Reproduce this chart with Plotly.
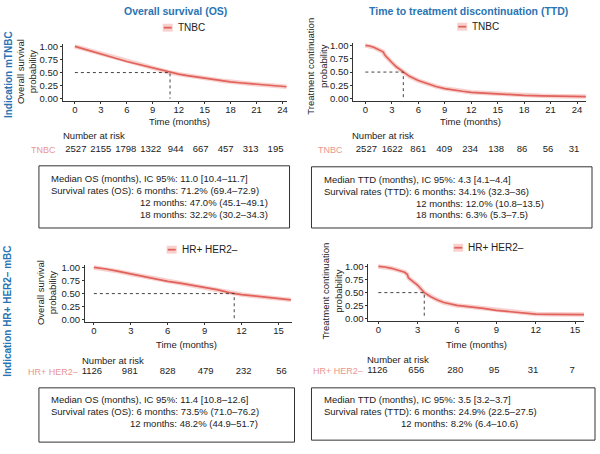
import plotly.graph_objects as go

W, H = 600, 454
FONT = "Liberation Sans, Arial, sans-serif"
RED = "#e0625b"
BAND = "rgba(240,150,145,0.45)"
PINK = "#ea9690"
BLUE = "#2a74b3"
DARK = "#222222"

# ---- data ----
os_tnbc_months = [0, 1, 2, 3, 4, 5, 6, 7, 8, 9, 10, 11, 12, 13, 14, 15, 16, 17, 18, 19, 20, 21, 22, 23, 24, 24.6]
os_tnbc_surv = [1.00, 0.955, 0.905, 0.855, 0.81, 0.76, 0.712, 0.67, 0.625, 0.585, 0.545, 0.50, 0.47, 0.44,
                0.415, 0.39, 0.37, 0.345, 0.322, 0.305, 0.29, 0.275, 0.26, 0.25, 0.235, 0.228]

ttd_tnbc_months = [0, 0.5, 1, 1.5, 2, 2.25, 2.5, 3, 3.5, 4, 4.3, 5, 6, 7, 8, 9, 10, 11, 12, 13, 14, 15,
                   16, 18, 20, 22, 24, 25]
ttd_tnbc_cont = [1.00, 0.99, 0.96, 0.92, 0.88, 0.81, 0.76, 0.68, 0.60, 0.54, 0.50, 0.42, 0.341, 0.28, 0.23,
                 0.19, 0.16, 0.14, 0.12, 0.11, 0.10, 0.09, 0.08, 0.063, 0.055, 0.048, 0.042, 0.04]

os_hr_months = [0, 1, 2, 3, 4, 5, 6, 7, 8, 9, 10, 11, 11.4, 12, 13, 14, 15, 16]
os_hr_surv = [1.00, 0.97, 0.925, 0.875, 0.83, 0.78, 0.735, 0.70, 0.66, 0.62, 0.575, 0.52, 0.50, 0.482,
              0.455, 0.43, 0.41, 0.38]

ttd_hr_months = [0, 0.5, 1, 1.5, 2, 2.2, 2.3, 2.6, 3, 3.5, 4, 4.5, 5, 6, 7, 8, 9, 10, 11, 12, 13, 14, 15, 15.7]
ttd_hr_cont = [1.00, 0.99, 0.965, 0.93, 0.89, 0.85, 0.78, 0.72, 0.64, 0.50, 0.42, 0.36, 0.31, 0.255, 0.23,
               0.20, 0.16, 0.135, 0.115, 0.09, 0.085, 0.082, 0.08, 0.08]

medians = [11.0, 4.3, 11.4, 3.5]

risk_times_24 = [0, 3, 6, 9, 12, 15, 18, 21, 24]
risk_times_15 = [0, 3, 6, 9, 12, 15]
risk_os_tnbc = [2527, 2155, 1798, 1322, 944, 667, 457, 313, 195]
risk_ttd_tnbc = [2527, 1622, 861, 409, 234, 138, 86, 56, 31]
risk_os_hr = [1126, 981, 828, 479, 232, 56]
risk_ttd_hr = [1126, 656, 280, 95, 31, 7]

y_ticks = [0, 0.25, 0.5, 0.75, 1.0]

summary_os_tnbc = ["Median OS (months), IC 95%: 11.0 [10.4–11.7]",
                   "Survival rates (OS): 6 months: 71.2% (69.4–72.9)",
                   "12 months: 47.0% (45.1–49.1)",
                   "18 months: 32.2% (30.2–34.3)"]
summary_ttd_tnbc = ["Median TTD (months), IC 95%: 4.3 [4.1–4.4]",
                    "Survival rates (TTD): 6 months: 34.1% (32.3–36)",
                    "12 months: 12.0% (10.8–13.5)",
                    "18 months: 6.3% (5.3–7.5)"]
summary_os_hr = ["Median OS (months), IC 95%: 11.4 [10.8–12.6]",
                 "Survival rates (OS): 6 months: 73.5% (71.0–76.2)",
                 "12 months: 48.2% (44.9–51.7)"]
summary_ttd_hr = ["Median TTD (months), IC 95%: 3.5 [3.2–3.7]",
                  "Survival rates (TTD): 6 months: 24.9% (22.5–27.5)",
                  "12 months: 8.2% (6.4–10.6)"]


def px(x, y):
    return x / W, 1 - y / H


# panel geometry in pixels: t=0 position, reference tick, axis left/right, y of value 1 and 0
panels = [
    dict(t0=75, tref=(24, 283), left=63, right=287, v1=44, v0=97, xmax=24,
         r0=76, rref=(24, 276), ry=149),
    dict(t0=366, tref=(24, 578), left=354, right=587, v1=43, v0=97, xmax=24,
         r0=367, rref=(24, 575), ry=149),
    dict(t0=94, tref=(15, 279), left=85, right=292, v1=268, v0=321, xmax=15,
         r0=92, rref=(15, 282), ry=374),
    dict(t0=379, tref=(15, 576), left=369, right=585, v1=267, v0=320, xmax=15,
         r0=378, rref=(15, 573), ry=373),
]

curves = [(os_tnbc_months, os_tnbc_surv), (ttd_tnbc_months, ttd_tnbc_cont),
          (os_hr_months, os_hr_surv), (ttd_hr_months, ttd_hr_cont)]
risks = [(risk_times_24, risk_os_tnbc), (risk_times_24, risk_ttd_tnbc),
         (risk_times_15, risk_os_hr), (risk_times_15, risk_ttd_hr)]

fig = go.Figure()
layout = dict(
    width=W, height=H, margin=dict(l=0, r=0, t=0, b=0),
    paper_bgcolor="white", plot_bgcolor="white", showlegend=False,
    font=dict(family=FONT, size=10, color=DARK),
)

for i, p in enumerate(panels):
    n = i + 1
    k = (p["tref"][1] - p["t0"]) / p["tref"][0]
    xr = [(p["left"] - p["t0"]) / k, (p["right"] - p["t0"]) / k]
    hv = p["v0"] - p["v1"]
    ytop = p["v1"] - 0.05 * hv
    ybot = p["v0"] + 0.05 * hv
    sfx = "" if n == 1 else str(n)
    layout["xaxis" + sfx] = dict(
        domain=[p["left"] / W, p["right"] / W], range=xr, anchor="y" + sfx,
        showline=True, linecolor="#333", linewidth=1, ticks="outside", ticklen=2,
        tickcolor="#333", tickvals=list(range(0, p["xmax"] + 1, 3)), showgrid=False,
        zeroline=False, tickfont=dict(size=9.5, color=DARK), ticklabelstandoff=-3,
    )
    layout["yaxis" + sfx] = dict(
        domain=[1 - ybot / H, 1 - ytop / H], range=[-0.05, 1.05], anchor="x" + sfx,
        showline=True, linecolor="#333", linewidth=1, ticks="outside", ticklen=2,
        tickcolor="#333", tickvals=y_ticks, tickformat=".2f", showgrid=False,
        zeroline=False, tickfont=dict(size=9.5, color=DARK),
    )
    t, s = curves[i]
    xa, ya = "x" + sfx, "y" + sfx
    fig.add_trace(go.Scatter(x=t, y=s, mode="lines", line=dict(color=BAND, width=4.5),
                             xaxis=xa, yaxis=ya, hoverinfo="skip"))
    fig.add_trace(go.Scatter(x=t, y=s, mode="lines", line=dict(color=RED, width=1.7),
                             xaxis=xa, yaxis=ya))
    m = medians[i]
    fig.add_trace(go.Scatter(x=[0, m, m], y=[0.5, 0.5, 0], mode="lines",
                             line=dict(color="#444", width=1, dash="3px,3px"),
                             xaxis=xa, yaxis=ya, hoverinfo="skip"))

    # risk table on its own hidden axis
    rn = n + 4
    rk = (p["rref"][1] - p["r0"]) / p["rref"][0]
    rl, rr = p["r0"] - 20, p["rref"][1] + 20
    layout["xaxis%d" % rn] = dict(domain=[rl / W, rr / W], range=[(rl - p["r0"]) / rk, (rr - p["r0"]) / rk],
                                  anchor="y%d" % rn, visible=False)
    layout["yaxis%d" % rn] = dict(domain=[1 - (p["ry"] + 6) / H, 1 - (p["ry"] - 6) / H], range=[0, 1],
                                  anchor="x%d" % rn, visible=False)
    rt, rv = risks[i]
    fig.add_trace(go.Scatter(x=rt, y=[0.5] * len(rt), mode="text", text=[str(v) for v in rv],
                             textfont=dict(size=9.5, color=DARK), cliponaxis=False,
                             xaxis="x%d" % rn, yaxis="y%d" % rn))

annotations = []
shapes = []


def text(x, y, s, size=10, color=DARK, bold=False, anchor="center", angle=0):
    ax, ay = px(x, y)
    annotations.append(dict(x=ax, y=ay, xref="paper", yref="paper", text=("<b>%s</b>" % s) if bold else s,
                            showarrow=False, xanchor=anchor, yanchor="middle", textangle=angle,
                            font=dict(family=FONT, size=size, color=color)))


# column titles and row labels
text(176, 8, "Overall survival (OS)", 10.5, BLUE, True)
text(469, 8, "Time to treatment discontinuation (TTD)", 10.5, BLUE, True)
text(8, 72, "Indication mTNBC", 10, BLUE, True, angle=-90)
text(8, 312, "Indication HR+ HER2– mBC", 10, BLUE, True, angle=-90)

# y titles
text(26, 69, "Overall survival<br>probability", 9.5, angle=-90)
text(317, 64, "Treatment continuation<br>probability", 9.5, angle=-90)
text(46, 293, "Overall survival<br>probability", 9.5, angle=-90)
text(332, 292, "Treatment continuation<br>probability", 9.5, angle=-90)

# x titles
for x, y in [(180, 120), (471, 120), (187, 346), (477, 346)]:
    text(x, y, "Time (months)", 9.5)

# legends
for (x0, y0, lab) in [(163, 25, "TNBC"), (458, 24, "TNBC"), (167, 250, "HR+ HER2–"), (454, 248, "HR+ HER2–")]:
    a0, b0 = px(x0, y0 - 4)
    a1, b1 = px(x0 + 10, y0 + 4)
    shapes.append(dict(type="rect", xref="paper", yref="paper", x0=a0, x1=a1, y0=b1, y1=b0,
                       fillcolor="rgba(240,150,145,0.45)", line=dict(width=0)))
    c0, d0 = px(x0 + 1, y0)
    c1, _ = px(x0 + 9, y0)
    shapes.append(dict(type="line", xref="paper", yref="paper", x0=c0, x1=c1, y0=d0, y1=d0,
                       line=dict(color=RED, width=1.8)))
    text(x0 + 13, y0, lab, 10, anchor="left")

# number at risk headers and strata labels
for (x, y) in [(94, 134), (384, 134), (113, 362), (399, 361)]:
    text(x, y, "Number at risk", 9.5)
text(58, 149, "TNBC", 9, PINK, anchor="right")
text(346, 149, "TNBC", 9, PINK, anchor="right")
text(80, 374, "HR+ HER2–", 9, PINK, anchor="right")
text(366, 373, "HR+ HER2–", 9, PINK, anchor="right")

# summary boxes
boxes = [
    (39, 165, 290, 228, summary_os_tnbc, 49, 138, [178, 190, 202, 214]),
    (312, 166, 593, 228, summary_ttd_tnbc, 323, 415, [179, 191, 203, 214]),
    (39, 390, 295, 445, summary_os_hr, 49, 128, [402, 414, 426]),
    (312, 390, 596, 443, summary_ttd_hr, 323, 400, [402, 414, 426]),
]
for (bx0, by0, bx1, by1, lines, xl, xi, ys) in boxes:
    a0, b0 = px(bx0, by0)
    a1, b1 = px(bx1, by1)
    shapes.append(dict(type="rect", xref="paper", yref="paper", x0=a0, x1=a1, y0=b1, y1=b0,
                       line=dict(color="#333", width=1), fillcolor="rgba(0,0,0,0)"))
    for j, (ln, yy) in enumerate(zip(lines, ys)):
        text(xl if j < 2 else xi, yy, ln, 9.5, anchor="left")

layout["annotations"] = annotations
layout["shapes"] = shapes
fig.update_layout(**layout)

# the page has a default body margin; drop it so the figure sits at the window's corner
fig.write_html("out.html", config={"displayModeBar": False},
               post_script="document.body.style.margin='0';")
